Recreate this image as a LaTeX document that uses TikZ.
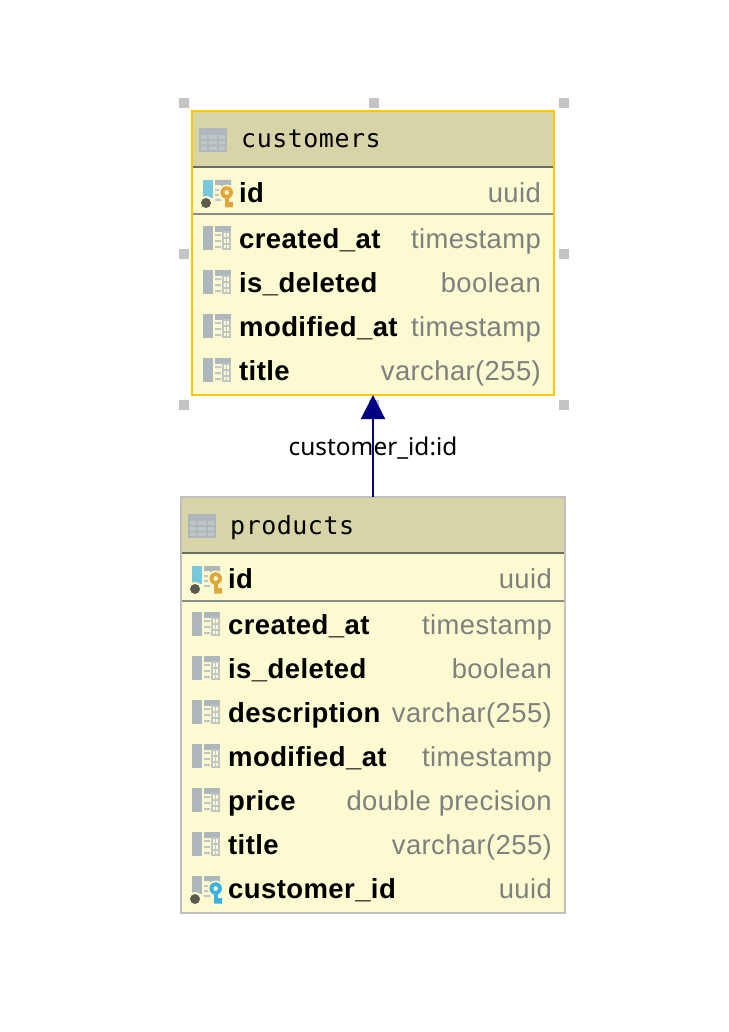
\documentclass[tikz,border=0pt]{standalone}
\usepackage{fontspec}
\setmainfont{Liberation Sans}
\newfontfamily\titlefont[LetterSpace=2]{DejaVu Sans Mono}
\newfontfamily\labelfont{Noto Sans}
\newfontfamily\colfont[LetterSpace=1.5]{Liberation Sans}
\usetikzlibrary{arrows.meta}
\definecolor{rowbg}{HTML}{FCFAD1}
\definecolor{headbg}{HTML}{D7D5A8}
\definecolor{sel}{HTML}{FFC800}
\definecolor{plain}{HTML}{BFC0BF}
\definecolor{sep}{HTML}{6A6A66}
\definecolor{sepb}{HTML}{8A8A88}
\definecolor{handle}{HTML}{C4C4C4}
\definecolor{icongray}{HTML}{AEB7BC}
\definecolor{iconlight}{HTML}{BFC6C4}
\definecolor{iconblue}{HTML}{76C9DD}
\definecolor{keygold}{HTML}{E0A63E}
\definecolor{keyblue}{HTML}{3BB0E3}
\definecolor{dot}{HTML}{5F5A4E}
\definecolor{typegray}{HTML}{7F7F7F}
\tikzset{
  tablebox/.style={draw=#1,line width=2pt,fill=rowbg,inner sep=0pt,outer sep=0pt,anchor=north west},
  handlebox/.style={fill=handle,draw=none,minimum size=10pt,inner sep=0pt},
  coltext/.style={anchor=base west,inner sep=0pt,font=\fontsize{27.5}{27.5}\selectfont\colfont\bfseries,text=black},
  typetext/.style={anchor=base east,inner sep=0pt,font=\fontsize{27.4}{27.4}\selectfont\colfont,text=typegray},
  titletext/.style={anchor=base west,inner sep=0pt,font=\fontsize{25}{25}\selectfont\titlefont,text=black},
  linklabel/.style={inner sep=0pt,font=\fontsize{24.4}{24.4}\selectfont\labelfont,text=black},
  link/.style={draw={rgb,255:red,0;green,0;blue,128},line width=2pt,-{Triangle[length=24pt,width=24pt]}},
}
\newcommand{\tableicon}[2]{\begin{scope}[shift={(#1,#2)}]
  \fill[icongray] (0,0) rectangle (28,24);
  \fill[iconlight] (2,7) rectangle (8,11) (10,7) rectangle (18,11) (20,7) rectangle (26,11)
     (2,13) rectangle (8,16.5) (10,13) rectangle (18,16.5) (20,13) rectangle (26,16.5)
     (2,18.5) rectangle (8,22) (10,18.5) rectangle (18,22) (20,18.5) rectangle (26,22);
\end{scope}}
\newcommand{\colicon}[2]{\begin{scope}[shift={(#1,#2)}]
  \fill[icongray] (0,0) rectangle (10,24);
  \fill[icongray] (12,0) rectangle (28,6);
  \fill[iconlight] (12,8) rectangle (18,10) (12,14) rectangle (18,16) (12,20) rectangle (18,22);
  \draw[iconlight,line width=1.6pt] (19.8,6) rectangle (27.2,23.2) (19.8,12) -- (27.2,12) (19.8,18) -- (27.2,18) (23.5,6) -- (23.5,23.2);
\end{scope}}
\newcommand{\keyicon}[4]{\begin{scope}[shift={(#1,#2)}]
  \fill[#3] (0,0) rectangle (10,18);
  \fill[icongray] (12,0) rectangle (28,5) (18,5) rectangle (28,8);
  \fill[iconlight] (12,9) rectangle (18,11) (12,14) rectangle (18,16) (12,19) rectangle (18,21);
  \fill[rowbg] (3,23) circle (7);
  \fill[dot] (3,23) circle (5);
  \fill[rowbg] (23.7,12.5) circle (8);
  \fill[#4] (23.7,12.5) circle (6.3);
  \fill[rowbg] (23.7,12.5) circle (2.3);
  \fill[#4] (22,16) rectangle (26,27.5) (26,22) rectangle (30,27.5);
\end{scope}}
\newcommand{\colrow}[5]{%
  \node[coltext] (#1-name) at (#2,#3+9.8) {#4};
  \node[typetext] (#1-type) at (\rightx,#3+9.8) {#5};
}
\begin{document}
\begin{tikzpicture}[x=1pt,y=-1pt]
\useasboundingbox (0,0) rectangle (728,1032);
\foreach \n/\hx/\hy in {h1/184/103,h2/374/103,h3/564/103,h4/184/254,h5/564/254,h6/184/405,h7/374/405,h8/564/405}
  \node[handlebox] (\n) at (\hx,\hy) {};
% customers
\node[tablebox=sel,minimum width=362pt,minimum height=284pt] (customers) at (192,111) {};
\fill[headbg] (193,112) rectangle (553,166);
\draw[sep,line width=2pt] (193,167) -- (553,167);
\draw[sepb,line width=2pt] (193,214.5) -- (553,214.5);
\tableicon{199}{128}
\node[titletext] (customers-title) at (241,148) {customers};
\def\rightx{541}
\keyicon{203}{180}{iconblue}{keygold}
\colrow{c1}{239}{193}{id}{uuid}
\colicon{203}{226}
\colrow{c2}{239}{239}{created\_at}{timestamp}
\colicon{203}{270}
\colrow{c3}{239}{283}{is\_deleted}{boolean}
\colicon{203}{314}
\colrow{c4}{239}{327}{modified\_at}{timestamp}
\colicon{203}{358}
\colrow{c5}{239}{371}{title}{varchar(255)}
% products
\node[tablebox=plain,minimum width=384pt,minimum height=416pt] (products) at (181,497) {};
\fill[headbg] (182,498) rectangle (564,552);
\draw[sep,line width=2pt] (182,553) -- (564,553);
\draw[sepb,line width=2pt] (182,600.5) -- (564,600.5);
\tableicon{188}{514}
\node[titletext] (products-title) at (230,534) {products};
\def\rightx{552}
\keyicon{192}{566}{iconblue}{keygold}
\colrow{p1}{228}{579}{id}{uuid}
\colicon{192}{612}
\colrow{p2}{228}{625}{created\_at}{timestamp}
\colicon{192}{656}
\colrow{p3}{228}{669}{is\_deleted}{boolean}
\colicon{192}{700}
\colrow{p4}{228}{713}{description}{varchar(255)}
\colicon{192}{744}
\colrow{p5}{228}{757}{modified\_at}{timestamp}
\colicon{192}{788}
\colrow{p6}{228}{801}{price}{double precision}
\colicon{192}{832}
\colrow{p7}{228}{845}{title}{varchar(255)}
\keyicon{192}{876}{icongray}{keyblue}
\colrow{p8}{228}{889}{customer\_id}{uuid}
% connector
\draw[link] (products.north) -- (customers.south);
\node[linklabel] (fk) at (373,448) {customer\_id:id};
\end{tikzpicture}
\end{document}
